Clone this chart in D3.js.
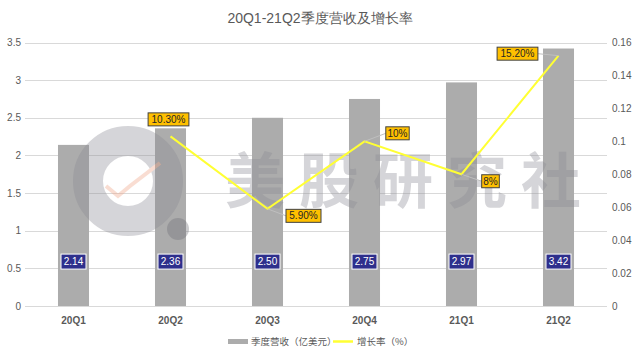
<!DOCTYPE html>
<html><head><meta charset="utf-8">
<script src="https://cdn.jsdelivr.net/npm/d3@7/dist/d3.min.js"></script>
<style>body{margin:0;background:#fff}svg{display:block}</style>
</head><body><svg id="c" width="640" height="363"></svg>
<script>
const categories = ["20Q1","20Q2","20Q3","20Q4","21Q1","21Q2"];
const revenue = [2.14, 2.36, 2.50, 2.75, 2.97, 3.42];
const growth = [null, 0.103, 0.059, 0.10, 0.08, 0.152];
const growthLabels = ["", "10.30%", "5.90%", "10%", "8%", "15.20%"];
const leftTicks = [0,0.5,1,1.5,2,2.5,3,3.5];
const rightTicks = [0,0.02,0.04,0.06,0.08,0.1,0.12,0.14,0.16];

(function(){
const svg = d3.select("#c");
const font = "'Liberation Sans', Arial, sans-serif";
const pL = 25, pR = 607, pT = 42.5, pB = 306;
const x = d3.scaleBand().domain(categories).range([pL, pR]).paddingInner(0.68).paddingOuter(0.34);
const y = d3.scaleLinear().domain([0,3.5]).range([pB, pT]);
const y2 = d3.scaleLinear().domain([0,0.16]).range([pB, pT]);
const cx = d => x(d) + x.bandwidth()/2;

svg.append("text").attr("x",320).attr("y",23).attr("text-anchor","middle")
  .attr("font-family",font).attr("font-size",14).attr("fill","#595959").text("20Q1-21Q2季度营收及增长率");

svg.append("g").selectAll("line").data(leftTicks).join("line")
  .attr("x1",pL).attr("x2",pR).attr("y1",d=>Math.round(y(d))+0.5).attr("y2",d=>Math.round(y(d))+0.5)
  .attr("stroke","#d9d9d9").attr("stroke-width",1);

const ya = d3.axisLeft(y).tickValues(leftTicks).tickSize(0).tickPadding(6).tickFormat(d=>d);
const gl = svg.append("g").attr("transform",`translate(${pL},0)`).call(ya);
gl.select(".domain").remove();
gl.selectAll("text").attr("font-family",font).attr("font-size",10).attr("fill","#595959").attr("x",-4);

const ya2 = d3.axisRight(y2).tickValues(rightTicks).tickSize(0).tickPadding(6).tickFormat(d=>d);
const gr = svg.append("g").attr("transform",`translate(${pR},0)`).call(ya2);
gr.select(".domain").remove();
gr.selectAll("text").attr("font-family",font).attr("font-size",10).attr("fill","#595959").attr("x",5);

svg.append("g").selectAll("rect").data(revenue).join("rect")
  .attr("x",(d,i)=>x(categories[i])).attr("width",x.bandwidth())
  .attr("y",d=>y(d)).attr("height",d=>pB-y(d)).attr("fill","#acacac");

const wm = svg.append("g").attr("opacity",0.35);
wm.append("circle").attr("cx",128).attr("cy",181).attr("r",40).attr("fill","none").attr("stroke","#8a8a93").attr("stroke-width",30);
wm.append("circle").attr("cx",178).attr("cy",229).attr("r",11).attr("fill","#6d6d75");
wm.append("path").attr("d","M106 186 L118 196 L130 186 L160 163").attr("fill","none").attr("stroke","#f0a080").attr("stroke-width",4);
wm.append("text").attr("x",225).attr("y",203).attr("text-anchor","start")
  .attr("font-family","'Noto Sans CJK SC'").attr("font-weight","bold").attr("font-size",60).attr("letter-spacing",14)
  .attr("fill","#8a8a93").text("美股研究社");

const vl = svg.append("g").selectAll("g").data(revenue).join("g")
  .attr("transform",(d,i)=>`translate(${cx(categories[i])},${y(0.59)})`);
vl.append("rect").attr("x",-12.5).attr("y",-7.5).attr("width",25).attr("height",15)
  .attr("fill","#2e2f8c").attr("stroke","#fff").attr("stroke-width",1);
vl.append("text").attr("text-anchor","middle").attr("dy","0.35em").attr("font-family",font)
  .attr("font-size",10).attr("fill","#fff").text(d=>d.toFixed(2));

const pts = growth.map((g,i)=>g==null?null:[cx(categories[i]), y2(g)]).filter(p=>p);
svg.append("path").attr("d",d3.line()(pts)).attr("fill","none").attr("stroke","#ffff33").attr("stroke-width",2);

const offs = [null,[-2,-17,"n"],[36,7,"r"],[33,-8,"r"],[29,7,"r"],[-41,-2,"l"]];
growth.forEach((g,i)=>{
  if(g==null) return;
  const px=cx(categories[i]), py=y2(g);
  const [dx,dy]=offs[i];
  const lx=px+dx, ly=py+dy;
  const t=growthLabels[i];
  const w=t.length*5.8+6, h=13;
  if(offs[i][2]!=="n"){
    const ex = offs[i][2]==="r"? lx-w/2 : lx+w/2;
    svg.append("line").attr("x1",px).attr("y1",py).attr("x2",ex).attr("y2",ly).attr("stroke","#bfbfbf").attr("stroke-width",1);
  }
  svg.append("rect").attr("x",lx-w/2).attr("y",ly-h/2).attr("width",w).attr("height",h)
    .attr("fill","#ffc000").attr("stroke","#404040").attr("stroke-width",1);
  svg.append("text").attr("x",lx).attr("y",ly).attr("dy","0.36em").attr("text-anchor","middle")
    .attr("font-family",font).attr("font-size",10).attr("fill","#262626").text(t);
});

svg.append("g").selectAll("text").data(categories).join("text")
  .attr("x",d=>cx(d)).attr("y",324).attr("text-anchor","middle")
  .attr("font-family",font).attr("font-size",10).attr("font-weight","bold").attr("fill","#595959").text(d=>d);

const lg = svg.append("g");
lg.append("rect").attr("x",228).attr("y",339).attr("width",20).attr("height",5).attr("fill","#acacac");
lg.append("text").attr("x",251).attr("y",345).attr("font-family","'Noto Sans CJK SC'").attr("font-size",9.5).attr("fill","#595959").text("季度营收（亿美元）");
lg.append("line").attr("x1",333).attr("x2",353).attr("y1",341.5).attr("y2",341.5).attr("stroke","#ffff33").attr("stroke-width",2.5);
lg.append("text").attr("x",357).attr("y",345).attr("font-family","'Noto Sans CJK SC'").attr("font-size",9.5).attr("fill","#595959").text("增长率（%）");
})();
</script></body></html>
